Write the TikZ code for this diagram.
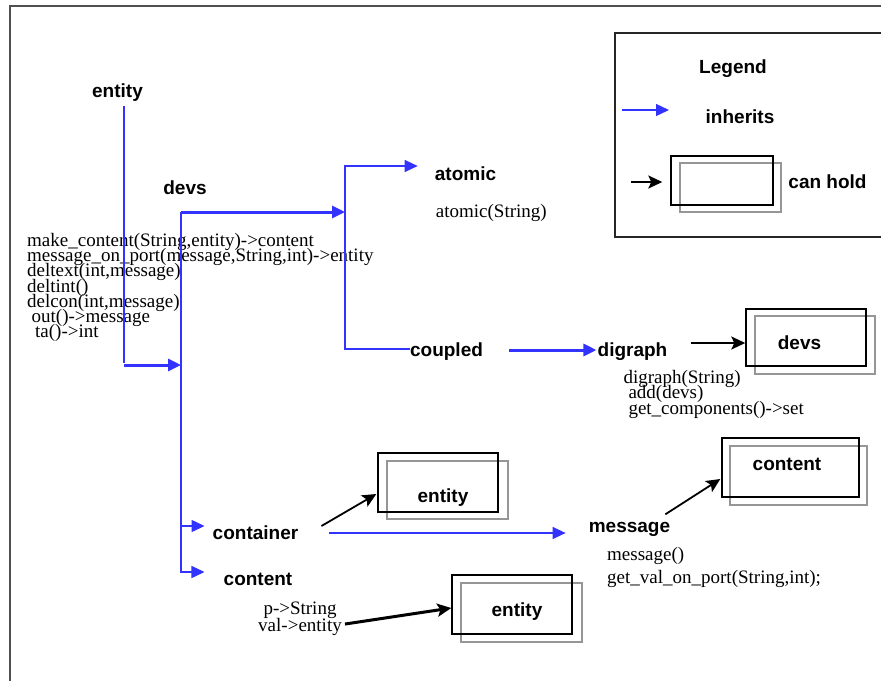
\documentclass[tikz,border=0pt]{standalone}
\usepackage{fontspec}
\setmainfont{Liberation Serif}
\newfontfamily\hv{Liberation Sans}
\usetikzlibrary{arrows.meta,calc}
\lineskiplimit=-100pt
\definecolor{inhblue}{RGB}{51,51,255}
\definecolor{framegray}{RGB}{80,80,80}
\definecolor{shadowgray}{RGB}{150,150,150}
\begin{document}
\begin{tikzpicture}[x=1pt,y=-1pt,
  lbl/.style={font=\hv\bfseries\fontsize{19}{22}\selectfont, inner sep=0pt, text height=13pt, text depth=4pt},
  meth/.style={font=\fontsize{19}{15.3}\selectfont, inner sep=0pt, align=left},
  inh/.style={draw=inhblue, line width=1.3pt},
  inhk/.style={draw=inhblue, line width=3pt},
  tipb/.style={-{Triangle[length=13pt,width=12pt]}},
  hold/.style={draw=black, line width=1.8pt, -{Stealth[length=14pt,width=13pt,inset=3pt]}},
  holdk/.style={hold, line width=3pt},
  boxk/.style={draw=black, line width=1.4pt, inner sep=0pt},
  boxg/.style={draw=shadowgray, line width=1.4pt, inner sep=0pt}]
\useasboundingbox (0,0) rectangle (881,681);
\fill[white] (0,0) rectangle (881,681);
% frames
\draw[framegray, line width=2pt] (881,5.5) -- (10,5.5) -- (10,681);
\draw[black!85, line width=1.5pt] (881,33) -- (615,33) -- (615,237) -- (881,237);

% labels
\node[lbl] (entity) at (117.5,92.8) {entity};
\node[lbl] (devs) at (185,189.8) {devs};
\node[meth, anchor=north west] (devsmeth) at (27,232.8) {make\_content(String,entity)->content\\message\_on\_port(message,String,int)->entity\\deltext(int,message)\\deltint()\\delcon(int,message)\\\hspace*{4.5pt}out()->message\\\hspace*{8pt}ta()->int};
\node[lbl] (atomic) at (465.5,175.5) {atomic};
\node[meth, anchor=base west] (atomicmeth) at (435.7,217) {atomic(String)};
\node[lbl] (coupled) at (446.5,351.5) {coupled};
\node[lbl] (digraph) at (632.5,351.5) {digraph};
\node[meth, anchor=north west, font=\fontsize{19}{15.5}\selectfont] (digmeth) at (623.3,369.8) {digraph(String)\\\hspace*{5pt}add(devs)\\\hspace*{5pt}get\_components()->set};

% devs box
\node[boxg, minimum width=120pt, minimum height=58pt] (devsboxg) at (815,345) {};
\node[boxk, minimum width=120pt, minimum height=57pt] (devsbox) at (806,337.5) {};
\node[lbl] (devslbl) at (799.5,344.5) {devs};

% legend
\node[lbl] (legend) at (733,68.5) {Legend};
\node[lbl] (inherits) at (740,118.5) {inherits};
\node[boxg, minimum width=101pt, minimum height=49pt] (legboxg) at (730.5,187.5) {};
\node[boxk, minimum width=102pt, minimum height=49pt] (legbox) at (722,180.5) {};
\node[lbl] (canhold) at (827.5,183.5) {can hold};
\coordinate (legA) at (622,110);
\coordinate (legB) at (669,110);
\coordinate (legC) at (631,182);
\draw[inh, tipb] (legA) -- (legB);
\draw[hold] (legC) -- ($(legbox.west)+(-8,1.5)$);

% container / content
\node[boxg, minimum width=121pt, minimum height=58pt] (ent1g) at (447.5,490) {};
\node[boxk, minimum width=120pt, minimum height=59pt] (ent1) at (438,482.5) {};
\node[lbl] (ent1lbl) at (443,497.5) {entity};
\node[lbl] (container) at (255.5,534.5) {container};
\node[lbl] (content) at (258,580.5) {content};
\node[meth, align=center, anchor=north, font=\fontsize{19}{17}\selectfont] (pv) at (300,602) {p->String\\val->entity};
\node[boxg, minimum width=121pt, minimum height=59pt] (ent2g) at (521.5,612.5) {};
\node[boxk, minimum width=120pt, minimum height=59pt] (ent2) at (512,604.5) {};
\node[lbl] (ent2lbl) at (517,611.5) {entity};

% message
\node[lbl] (message) at (629.5,527.5) {message};
\node[meth, anchor=north west, font=\fontsize{19}{23}\selectfont] (msgmeth) at (607,546.8) {message()\\get\_val\_on\_port(String,int);};
\node[boxg, minimum width=137pt, minimum height=59pt] (cbg) at (798.5,475.5) {};
\node[boxk, minimum width=137pt, minimum height=59pt] (cb) at (790.5,467.5) {};
\node[lbl] (cblbl) at (787,465.5) {content};

% inheritance connectors
\coordinate (eBot) at (124,363);
\coordinate (eTurn) at (124,365);
\coordinate (dMid) at (181,365);
\coordinate (dTop) at (181,212);
\coordinate (dBot) at (181,572);
\coordinate (dCont) at (181,526);
\coordinate (aJ) at (345,212);
\coordinate (aTop) at (345,166);
\coordinate (aBot) at (345,349);

\draw[inh] ($(entity.south)+(6.5,4)$) -- (eBot);
\draw[inhk, tipb] (eTurn) -- (dMid);
\draw[inh, tipb] (dTop) -- (dBot) -- ($(content.west)+(-19,-8.5)$);
\draw[inh, tipb] (dCont) -- ($(container.west)+(-8,-8.5)$);
\draw[inhk, tipb] (dTop) -- (aJ);
\draw[inh, tipb] (aBot -| coupled.west) -- (aBot) -- (aTop) -- ($(atomic.west)+(-17,-9.5)$);
\draw[inhk, tipb] ($(coupled.east)+(26,-1.5)$) -- ($(digraph.west)+(-1,-1.5)$);
\draw[inh, tipb] ($(container.east)+(31,-1.5)$) -- ($(message.west)+(-23,5.5)$);

% can-hold connectors
\draw[hold] ($(digraph.east)+(23,-8.5)$) -- ($(devsbox.west)+(0,5.5)$);
\draw[hold] ($(container.east)+(23,-8.5)$) -- ($(ent1.west)+(-1,11.5)$);
\draw[holdk] ($(pv.east)+(3,5)$) -- ($(ent2.west)+(0,3.5)$);
\draw[hold] ($(message.north east)+(-5,-4.5)$) -- ($(cb.west)+(-1,11.5)$);
\end{tikzpicture}
\end{document}
